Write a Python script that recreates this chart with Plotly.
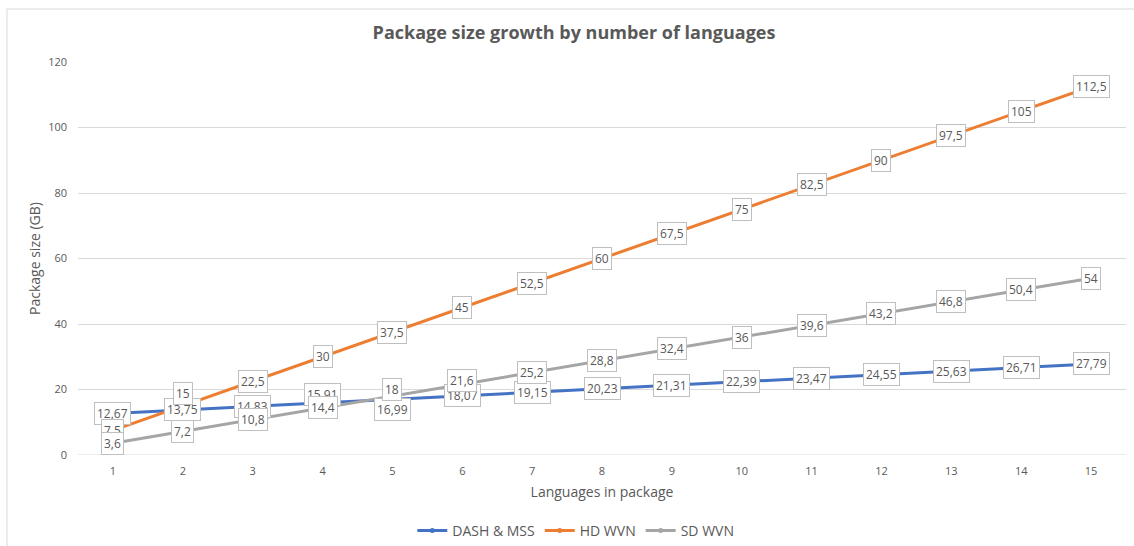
import plotly.graph_objects as go

languages = list(range(1, 16))
dash_mss = [12.67, 13.75, 14.83, 15.91, 16.99, 18.07, 19.15, 20.23, 21.31, 22.39, 23.47, 24.55, 25.63, 26.71, 27.79]
hd_wvn = [7.5, 15, 22.5, 30, 37.5, 45, 52.5, 60, 67.5, 75, 82.5, 90, 97.5, 105, 112.5]
sd_wvn = [3.6, 7.2, 10.8, 14.4, 18, 21.6, 25.2, 28.8, 32.4, 36, 39.6, 43.2, 46.8, 50.4, 54]

series = [
    ("DASH & MSS", dash_mss, "#4472C4"),
    ("HD WVN", hd_wvn, "#ED7D31"),
    ("SD WVN", sd_wvn, "#A5A5A5"),
]

# label nudges (pixels) for overlapping labels: (series, index) -> yshift
nudges = {("HD WVN", 1): 12, ("DASH & MSS", 3): 8, ("SD WVN", 4): 7, ("DASH & MSS", 4): -10,
          ("SD WVN", 5): 4}

fig = go.Figure()
annotations = []
for name, vals, color in series:
    fig.add_trace(go.Scatter(
        x=languages, y=vals, name=name, mode="lines+markers",
        line=dict(color=color, width=3),
        marker=dict(color=color, size=5),
    ))
for name, vals, color in series:
    for i, (x, v) in enumerate(zip(languages, vals)):
        txt = (f"{v:g}").replace(".", ",")
        annotations.append(dict(
            x=x, y=v, xref="x", yref="y", text=txt, showarrow=False,
            yshift=nudges.get((name, i), 0),
            font=dict(family="Open Sans", size=12, color="#595959"),
            bgcolor="white", bordercolor="#BFBFBF", borderwidth=1, borderpad=2,
        ))

fig.update_layout(
    width=1134, height=546,
    margin=dict(l=78, r=8, t=62, b=91, autoexpand=False),
    paper_bgcolor="white", plot_bgcolor="white",
    font=dict(family="Open Sans", color="#595959"),
    title=dict(text="<b>Package size growth by number of languages</b>",
               x=(373 + 775) / 2 / 1134, xanchor="center", y=1 - 33 / 546, yanchor="middle",
               font=dict(size=18, color="#595959")),
    xaxis=dict(range=[0.5, 15.5], tickmode="array", tickvals=languages,
               showgrid=False, zeroline=False, showline=False, ticks="", automargin=False,
               tickfont=dict(size=11, color="#595959"), ticklabelstandoff=8,
               title=dict(text="Languages in package", font=dict(size=14, color="#595959"), standoff=10)),
    yaxis=dict(range=[0, 120], dtick=20, showgrid=True, gridcolor="#D9D9D9", gridwidth=1,
               zeroline=False, showline=False, ticks="", automargin=False,
               tickfont=dict(size=11, color="#595959"), ticklabelstandoff=10,
               title=dict(text="Package size (GB)", font=dict(size=14, color="#595959"), standoff=4)),
    legend=dict(orientation="h", x=0.475, xanchor="center", y=-0.193, yanchor="middle",
                font=dict(size=14, color="#595959"), itemwidth=30),
    annotations=annotations,
    shapes=[dict(type="rect", xref="paper", yref="paper",
                 x0=(7 - 78) / 1048, x1=1.2, y0=-0.5, y1=1 + (62 - 9) / 393,
                 line=dict(color="#D9D9D9", width=1), layer="below")],
)
fig.add_shape(type="line", xref="paper", yref="y", x0=0, x1=1, y0=0, y1=0,
              line=dict(color="#D9D9D9", width=1), layer="below")

fig.write_html("out.html")
